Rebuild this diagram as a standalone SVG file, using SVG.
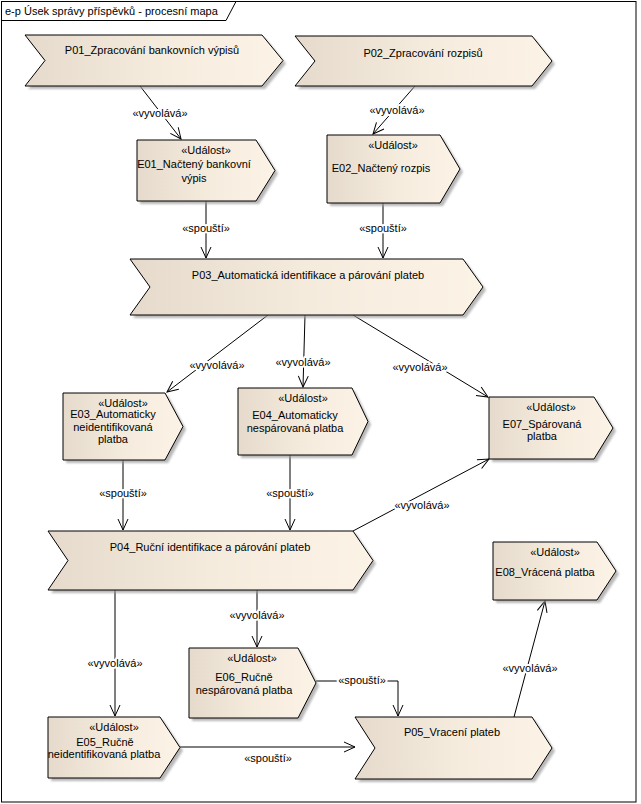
<svg xmlns="http://www.w3.org/2000/svg" width="641" height="804" viewBox="0 0 641 804">
<style>
text{font-family:"Liberation Sans",Arial,sans-serif;font-size:11px;fill:#000}
.c{text-anchor:middle}
.shape{fill:url(#g);stroke:#000;stroke-width:1}
.sh{fill:#9a9a9a;opacity:0.7;filter:url(#blur)}
.ln{fill:none;stroke:#000;stroke-width:1;marker-end:url(#arr)}
.lbl{text-anchor:middle;stroke:#fff;stroke-width:4;paint-order:stroke;stroke-linejoin:round}
</style>
<defs>
<linearGradient id="g" x1="0" y1="0" x2="1" y2="0">
<stop offset="0" stop-color="#E5DACB"/>
<stop offset="0.5" stop-color="#F5EBDD"/>
<stop offset="1" stop-color="#FCF3E7"/>
</linearGradient>
<filter id="blur" x="-10%" y="-10%" width="120%" height="120%"><feGaussianBlur stdDeviation="1"/></filter>
<marker id="arr" markerWidth="14" markerHeight="12" refX="12" refY="6" orient="auto" markerUnits="userSpaceOnUse">
<path d="M1,1 L12,6 L1,11" fill="none" stroke="#000" stroke-width="1"/>
</marker>
</defs>
<rect x="0" y="0" width="641" height="804" fill="#fff"/>
<g id="frame">
<rect x="1.5" y="1.5" width="634.5" height="800.5" fill="none" stroke="#000"/>
<polyline points="1.5,20.5 226,20.5 236,1.5" fill="none" stroke="#000"/>
<text x="5" y="15">e-p Úsek správy příspěvků - procesní mapa</text>
</g>

<g id="connectors">
<line class="ln" x1="140" y1="86" x2="181" y2="139"/>
<text class="lbl" x="160" y="117">«vyvolává»</text>
<line class="ln" x1="415" y1="86" x2="373" y2="134"/>
<text class="lbl" x="397" y="114">«vyvolává»</text>
<line class="ln" x1="206" y1="201" x2="206" y2="258"/>
<text class="lbl" x="206" y="232">«spouští»</text>
<line class="ln" x1="383" y1="203" x2="383" y2="258"/>
<text class="lbl" x="383" y="232">«spouští»</text>
<line class="ln" x1="268" y1="315" x2="167" y2="392"/>
<text class="lbl" x="217" y="369">«vyvolává»</text>
<line class="ln" x1="305" y1="315" x2="303" y2="387"/>
<text class="lbl" x="303" y="366">«vyvolává»</text>
<line class="ln" x1="353" y1="315" x2="488" y2="397"/>
<text class="lbl" x="420" y="371">«vyvolává»</text>
<line class="ln" x1="123" y1="460" x2="123" y2="530"/>
<text class="lbl" x="123" y="497">«spouští»</text>
<line class="ln" x1="290" y1="455" x2="290" y2="530"/>
<text class="lbl" x="290" y="497">«spouští»</text>
<line class="ln" x1="353" y1="531" x2="489" y2="459"/>
<text class="lbl" x="422" y="509">«vyvolává»</text>
<line class="ln" x1="115" y1="590" x2="115" y2="716"/>
<text class="lbl" x="115" y="667">«vyvolává»</text>
<line class="ln" x1="257" y1="590" x2="257" y2="647"/>
<text class="lbl" x="257" y="619">«vyvolává»</text>
<polyline class="ln" points="316,681 398,681 398,716"/>
<text class="lbl" x="362" y="684">«spouští»</text>
<line class="ln" x1="180" y1="747" x2="355" y2="747"/>
<text class="lbl" x="268" y="762">«spouští»</text>
<line class="ln" x1="514" y1="717" x2="545" y2="601"/>
<text class="lbl" x="530" y="672">«vyvolává»</text>
</g>

<g id="P01">
<polygon class="sh" transform="translate(3,3)" points="25,35 262,35 283,60.5 262,86 25,86 45,60.5"/>
<polygon class="shape" points="25,35 262,35 283,60.5 262,86 25,86 45,60.5"/>
<text class="c" x="152" y="54">P01_Zpracování bankovních výpisů</text>
</g>
<g id="P02">
<polygon class="sh" transform="translate(3,3)" points="295,36 532,36 552,61 532,86 295,86 315,61"/>
<polygon class="shape" points="295,36 532,36 552,61 532,86 295,86 315,61"/>
<text class="c" x="423" y="57">P02_Zpracování rozpisů</text>
</g>
<g id="E01">
<polygon class="sh" transform="translate(3,3)" points="137,140 256,140 275,170.5 256,201 137,201"/>
<polygon class="shape" points="137,140 256,140 275,170.5 256,201 137,201"/>
<text class="c" x="206" y="154">«Událost»</text>
<text class="c" x="194" y="168">E01_Načtený bankovní</text>
<text class="c" x="194" y="182">výpis</text>
</g>
<g id="E02">
<polygon class="sh" transform="translate(3,3)" points="327,135 440,135 460,169 440,203 327,203"/>
<polygon class="shape" points="327,135 440,135 460,169 440,203 327,203"/>
<text class="c" x="393" y="149">«Událost»</text>
<text class="c" x="381" y="172">E02_Načtený rozpis</text>
</g>
<g id="P03">
<polygon class="sh" transform="translate(3,3)" points="130,259 463,259 483,287 463,315 130,315 150,287"/>
<polygon class="shape" points="130,259 463,259 483,287 463,315 130,315 150,287"/>
<text class="c" x="308" y="279">P03_Automatická identifikace a párování plateb</text>
</g>
<g id="E03">
<polygon class="sh" transform="translate(3,3)" points="63,393 165,393 183,426.5 165,460 63,460"/>
<polygon class="shape" points="63,393 165,393 183,426.5 165,460 63,460"/>
<text class="c" x="123" y="407">«Událost»</text>
<text class="c" x="113" y="418">E03_Automaticky</text>
<text class="c" x="113" y="431">neidentifikovaná</text>
<text class="c" x="113" y="443">platba</text>
</g>
<g id="E04">
<polygon class="sh" transform="translate(3,3)" points="238,388 352,388 368,421.5 352,455 238,455"/>
<polygon class="shape" points="238,388 352,388 368,421.5 352,455 238,455"/>
<text class="c" x="303" y="402">«Událost»</text>
<text class="c" x="295" y="419">E04_Automaticky</text>
<text class="c" x="295" y="432">nespárovaná platba</text>
</g>
<g id="E07">
<polygon class="sh" transform="translate(3,3)" points="489,397 594,397 613,428 594,459 489,459"/>
<polygon class="shape" points="489,397 594,397 613,428 594,459 489,459"/>
<text class="c" x="551" y="411">«Událost»</text>
<text class="c" x="542" y="428">E07_Spárovaná</text>
<text class="c" x="542" y="440">platba</text>
</g>
<g id="P04">
<polygon class="sh" transform="translate(3,3)" points="48,531 353,531 373,560.5 353,590 48,590 68,560.5"/>
<polygon class="shape" points="48,531 353,531 373,560.5 353,590 48,590 68,560.5"/>
<text class="c" x="210" y="551">P04_Ruční identifikace a párování plateb</text>
</g>
<g id="E08">
<polygon class="sh" transform="translate(3,3)" points="493,542 597,542 616,571 597,600 493,600"/>
<polygon class="shape" points="493,542 597,542 616,571 597,600 493,600"/>
<text class="c" x="555" y="556">«Událost»</text>
<text class="c" x="545" y="576">E08_Vrácená platba</text>
</g>
<g id="E06">
<polygon class="sh" transform="translate(3,3)" points="189,648 298,648 316,683 298,718 189,718"/>
<polygon class="shape" points="189,648 298,648 316,683 298,718 189,718"/>
<text class="c" x="252" y="662">«Událost»</text>
<text class="c" x="244" y="681">E06_Ručně</text>
<text class="c" x="244" y="694">nespárovaná platba</text>
</g>
<g id="E05">
<polygon class="sh" transform="translate(3,3)" points="48,717 160,717 180,747.5 160,778 48,778"/>
<polygon class="shape" points="48,717 160,717 180,747.5 160,778 48,778"/>
<text class="c" x="114" y="731">«Událost»</text>
<text class="c" x="105" y="746">E05_Ručně</text>
<text class="c" x="104" y="758">neidentifikovaná platba</text>
</g>
<g id="P05">
<polygon class="sh" transform="translate(3,3)" points="355,717 532,717 552,748 532,779 355,779 375,748"/>
<polygon class="shape" points="355,717 532,717 552,748 532,779 355,779 375,748"/>
<text class="c" x="452" y="736">P05_Vracení plateb</text>
</g>
</svg>
